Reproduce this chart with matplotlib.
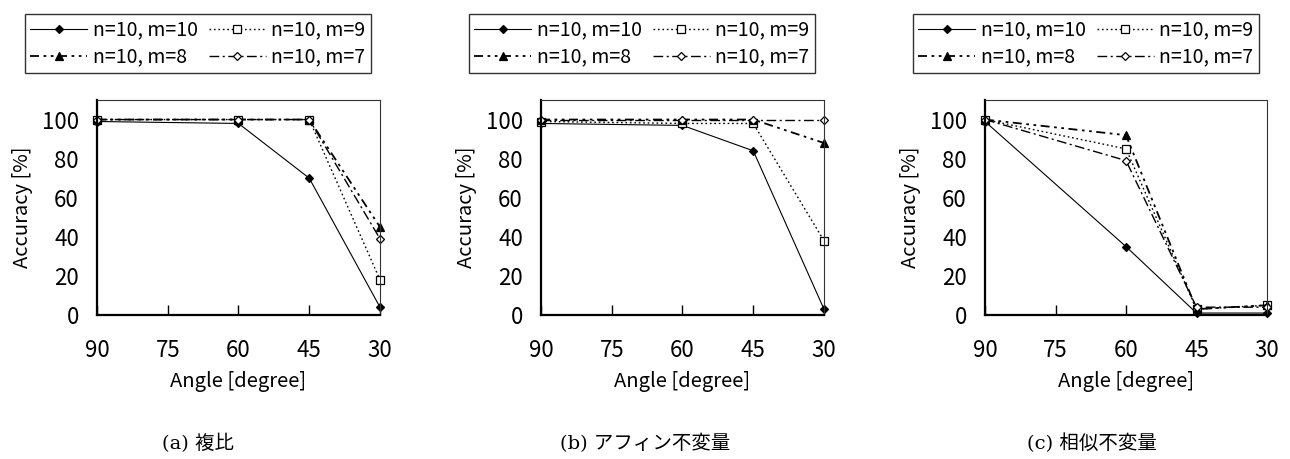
import numpy as np
import matplotlib
matplotlib.use('Agg')
from matplotlib import pyplot as plt

plt.rcParams['font.family'] = ['Noto Sans CJK JP', 'DejaVu Sans']

angles = [90, 60, 45, 30]
labels = ['n=10, m=10', 'n=10, m=9', 'n=10, m=8', 'n=10, m=7']
captions = ['(a) 複比', '(b) アフィン不変量', '(c) 相似不変量']

# accuracy [%] per panel, one list per m
cross_ratio = [
    [99, 98, 70, 4],
    [100, 100, 100, 18],
    [100, 100, 100, 45],
    [100, 100, 100, 39],
]
affine = [
    [98, 97, 84, 3],
    [99, 98, 98, 38],
    [100, 100, 100, 88],
    [100, 100, 100, 100],
]
similar = [
    [99, 35, 1, 1],
    [100, 85, 3, 5],
    [100, 92, 3, 5],
    [100, 79, 4, 4],
]
panels = [cross_ratio, affine, similar]

styles = [
    dict(ls='-', marker='D', ms=4.5, mfc='black', lw=0.8),
    dict(ls=(0, (1.2, 2)), marker='s', ms=6, mfc='white', lw=1.0),
    dict(ls=(0, (5, 2.5, 1.5, 2.5, 1.5, 2.5)), marker='^', ms=6, mfc='black', lw=1.3),
    dict(ls=(0, (7, 2.5, 1.5, 2.5)), marker='D', ms=4.5, mfc='white', lw=1.0),
]

fig = plt.figure(figsize=(12.9, 4.59), dpi=100)
W, H = 1290, 459
ax_left = [97, 541, 985]
ax_right = [380, 824, 1267]
leg_cx = [198, 642, 1086]
cap_cx = [198, 645, 1092]

for i, data in enumerate(panels):
    ax = fig.add_axes([ax_left[i] / W, 1 - 315 / H,
                       (ax_right[i] - ax_left[i]) / W, 215 / H])
    handles = []
    for j, vals in enumerate(data):
        h, = ax.plot(angles, vals, color='black', mec='black', mew=0.9,
                     label=labels[j], clip_on=False, **styles[j])
        handles.append(h)
    ax.set_xlim(90, 30)
    ax.set_ylim(0, 110)
    ax.set_xticks([90, 75, 60, 45, 30])
    ax.set_yticks([0, 20, 40, 60, 80, 100])
    ax.tick_params(axis='x', direction='in', length=7, width=1, pad=17, labelsize=16)
    ax.tick_params(axis='y', length=0, pad=13, labelsize=16)
    for s in ['left', 'bottom']:
        ax.spines[s].set_linewidth(1.6)
    for s in ['top', 'right']:
        ax.spines[s].set_linewidth(0.8)
        ax.spines[s].set_color('#333333')
    ax.set_xlabel('Angle [degree]', fontsize=14.5, labelpad=7)
    ax.set_ylabel('Accuracy [%]', fontsize=14.5, labelpad=6)

    # row-major order for a 2-column legend
    order = [0, 2, 1, 3]
    leg = fig.legend(handles=[handles[k] for k in order], loc='upper center',
                     bbox_to_anchor=(leg_cx[i] / W, 1 - 4 / H),
                     ncol=2, fontsize=14, frameon=True, fancybox=False,
                     edgecolor='black', handlelength=2.9, handletextpad=0.3,
                     columnspacing=0.6, borderpad=0.3, labelspacing=0.3)
    leg.get_frame().set_linewidth(1.0)

    fig.text(cap_cx[i] / W, 1 - 443 / H, captions[i], ha='center', va='center',
             fontsize=14, family=['DejaVu Serif', 'Noto Sans CJK JP'])

fig.savefig('out.png', dpi=100)
